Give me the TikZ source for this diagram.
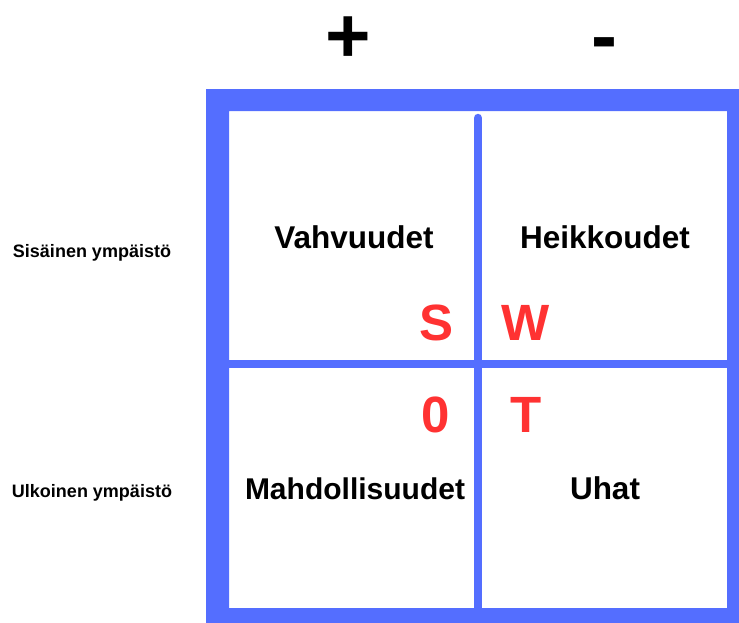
\documentclass[tikz,border=0pt]{standalone}
\usepackage{fontspec}
\setmainfont{Liberation Sans}
\definecolor{frameblue}{RGB}{84,110,255}
\definecolor{swotred}{RGB}{255,50,50}
\begin{document}
\begin{tikzpicture}[x=1pt,y=-1pt,
  quadlabel/.style={anchor=base,inner sep=0pt,font=\bfseries\fontsize{31.5}{36}\selectfont},
  letter/.style={anchor=base,inner sep=0pt,text=swotred,font=\bfseries\fontsize{51}{56}\selectfont},
  sidelabel/.style={anchor=base,inner sep=0pt,font=\bfseries\fontsize{18}{21}\selectfont},
  signlabel/.style={anchor=base,inner sep=0pt,text height=0.6em,text depth=0pt,font=\bfseries\fontsize{78}{82}\selectfont},
  divider/.style={draw=frameblue,line width=8.5pt}]
\useasboundingbox (0,0) rectangle (739,622);
% thick outer frame
\fill[frameblue,even odd rule] (206,89) rectangle (752,636) (229,111) rectangle (727,608);
% dividers between the four fields
\draw[divider,line cap=round] (478,118) -- (478,610);
\draw[divider] (229,364) -- (727,364);
% column signs
\node[signlabel] (plus) at (348,62) {+};
\node[signlabel] (minus) at (604,62) {-};
% row labels
\node[sidelabel] (inner) at (92,257) {Sisäinen ympäistö};
\node[sidelabel] (outer) at (92,497) {Ulkoinen ympäistö};
% field titles
\node[quadlabel] (strengths) at (354,248) {Vahvuudet};
\node[quadlabel] (weaknesses) at (605,248) {Heikkoudet};
\node[quadlabel,font=\bfseries\fontsize{30}{34}\selectfont] (opportunities) at (355,499) {Mahdollisuudet};
\node[quadlabel] (threats) at (605,499) {Uhat};
% letters
\node[letter] (S) at (437,340) {S};
\node[letter] (W) at (526,340) {W};
\node[letter] (O) at (436,432) {0};
\node[letter] (T) at (526,432) {T};
\end{tikzpicture}
\end{document}
